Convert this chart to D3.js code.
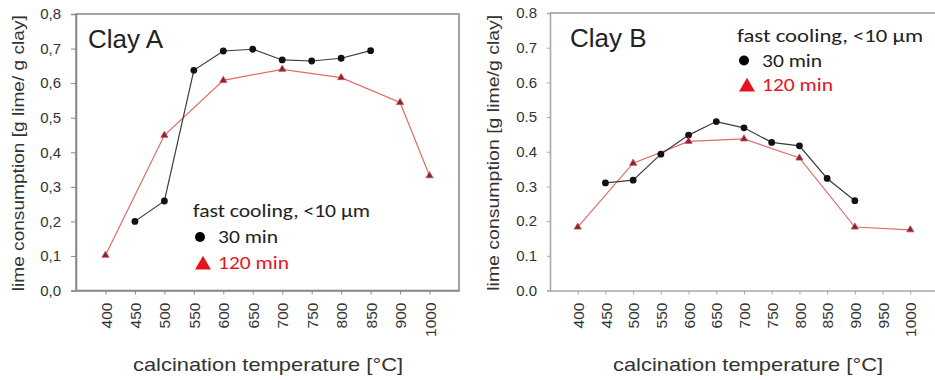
<!DOCTYPE html>
<html>
<head>
<meta charset="utf-8">
<script src="https://cdn.jsdelivr.net/npm/d3@7"></script>
<style>
  html, body { margin: 0; padding: 0; background: #fff; }
  svg { display: block; }
  .tick text { font-family: "Liberation Sans", Arial, sans-serif; fill: #333; }
</style>
</head>
<body>
<svg id="chart" width="935" height="380"></svg>
<script>
// Calcination temperature categories (°C)
const tempsA = ["400", "450", "500", "550", "600", "650", "700", "750", "800", "850", "900", "1000"];
const tempsB = ["400", "450", "500", "550", "600", "650", "700", "750", "800", "850", "900", "950", "1000"];

// Clay A, lime consumption [g lime / g clay]
const clayA30Temps  = ["450", "500", "550", "600", "650", "700", "750", "800", "850"];
const clayA30       = [0.200, 0.259, 0.637, 0.693, 0.698, 0.667, 0.664, 0.672, 0.694];
const clayA120Temps = ["400", "500", "600", "700", "800", "900", "1000"];
const clayA120      = [0.102, 0.449, 0.608, 0.640, 0.616, 0.544, 0.332];

// Clay B, lime consumption [g lime / g clay]
const clayB30Temps  = ["450", "500", "550", "600", "650", "700", "750", "800", "850", "900"];
const clayB30       = [0.310, 0.318, 0.393, 0.448, 0.487, 0.469, 0.427, 0.417, 0.323, 0.259];
const clayB120Temps = ["400", "500", "600", "700", "800", "900", "1000"];
const clayB120      = [0.183, 0.367, 0.430, 0.437, 0.382, 0.183, 0.175];

// Y axis ticks and their labels (comma decimals on the left panel)
const yTicks       = [0, 0.1, 0.2, 0.3, 0.4, 0.5, 0.6, 0.7, 0.8];
const yTickLabelsA = ["0,0", "0,1", "0,2", "0,3", "0,4", "0,5", "0,6", "0,7", "0,8"];
const yTickLabelsB = ["0.0", "0.1", "0.2", "0.3", "0.4", "0.5", "0.6", "0.7", "0.8"];

const legendTitle = "fast cooling, <10 µm";
const seriesNames = ["30 min", "120 min"];

const svg = d3.select("#chart");
const triangle = d3.symbol().type(d3.symbolTriangle);

function panel(cfg) {
  const g = svg.append("g");
  const x = d3.scalePoint().domain(cfg.temps).range([cfg.left, cfg.right]).padding(1);
  const y = d3.scaleLinear().domain([0, 0.8]).range([cfg.bottom, cfg.top]);

  // frame
  if (cfg.box) {
    g.append("rect")
      .attr("x", cfg.left).attr("y", cfg.top)
      .attr("width", cfg.right - cfg.left).attr("height", cfg.bottom - cfg.top)
      .attr("fill", "none").attr("stroke", "#8a8a8a").attr("stroke-width", 1.6);
  } else {
    g.append("line")
      .attr("x1", cfg.left).attr("x2", cfg.right)
      .attr("y1", cfg.top).attr("y2", cfg.top)
      .attr("stroke", "#9a9a9a").attr("stroke-width", 1.4);
  }

  // y axis
  const ya = g.append("g").attr("transform", `translate(${cfg.left},0)`)
    .call(d3.axisLeft(y).tickValues(yTicks).tickSize(cfg.yTick).tickPadding(cfg.yPad)
      .tickFormat((d, i) => cfg.yLabels[i]));
  ya.select(".domain").attr("stroke", cfg.axisColor).attr("stroke-width", 1.6);
  ya.selectAll(".tick line").attr("stroke", cfg.axisColor);
  ya.selectAll(".tick text").attr("font-size", 15);

  // x axis
  const xa = g.append("g").attr("transform", `translate(0,${cfg.bottom})`)
    .call(d3.axisBottom(x).tickSize(4).tickSizeOuter(0));
  xa.select(".domain").attr("stroke", cfg.axisColor).attr("stroke-width", 1.6);
  xa.selectAll(".tick line").attr("stroke", cfg.axisColor);
  xa.selectAll(".tick text")
    .attr("font-size", 15.5)
    .attr("transform", "rotate(-90)")
    .attr("text-anchor", "end")
    .attr("x", -12).attr("y", 0).attr("dy", "0.36em");

  // axis titles
  g.append("text")
    .attr("transform", `translate(${cfg.yTitleX},${(cfg.top + cfg.bottom) / 2 + 1}) rotate(-90)`)
    .attr("text-anchor", "middle").attr("dy", "0.35em")
    .attr("font-family", "'Liberation Sans', Arial, sans-serif").attr("font-size", 17)
    .attr("textLength", 276).attr("lengthAdjust", "spacingAndGlyphs")
    .attr("fill", "#333").text(cfg.yTitle);
  g.append("text")
    .attr("x", cfg.xTitleX).attr("y", 371)
    .attr("text-anchor", "middle")
    .attr("font-family", "'Liberation Sans', Arial, sans-serif").attr("font-size", 18.5)
    .attr("textLength", 270).attr("lengthAdjust", "spacingAndGlyphs")
    .attr("fill", "#333").text("calcination temperature [°C]");

  // panel title
  g.append("text")
    .attr("x", cfg.titleX).attr("y", cfg.titleY)
    .attr("font-family", "'Liberation Sans', Arial, sans-serif").attr("font-size", 26)
    .attr("fill", "#222").text(cfg.title);

  const line = d3.line().x(d => x(d[0])).y(d => y(d[1]));
  const s30 = cfg.t30.map((t, i) => [t, cfg.v30[i]]);
  const s120 = cfg.t120.map((t, i) => [t, cfg.v120[i]]);

  g.append("path").datum(s120).attr("d", line)
    .attr("fill", "none").attr("stroke", "#e06a6a").attr("stroke-width", 1.2);
  g.append("path").datum(s30).attr("d", line)
    .attr("fill", "none").attr("stroke", "#3c3c3c").attr("stroke-width", 1.2);

  g.selectAll(".m30").data(s30).join("circle")
    .attr("cx", d => x(d[0])).attr("cy", d => y(d[1])).attr("r", 3.4)
    .attr("fill", "#111");
  g.selectAll(".m120").data(s120).join("path")
    .attr("d", triangle.size(22))
    .attr("transform", d => `translate(${x(d[0])},${y(d[1])})`)
    .attr("fill", "#7a2a2e").attr("stroke", "#cf4a50").attr("stroke-width", 0.8);

  // legend
  const lg = g.append("g").attr("font-family", "Carlito, Calibri, Lato, sans-serif");
  const gap = cfg.legGap;
  lg.append("text").attr("x", cfg.legX).attr("y", cfg.legY)
    .attr("font-size", 19).attr("fill", "#222")
    .attr("textLength", cfg.legW).attr("lengthAdjust", "spacingAndGlyphs")
    .text(legendTitle);
  lg.append("circle").attr("cx", cfg.legX + 7).attr("cy", cfg.legY + gap - 6).attr("r", 5).attr("fill", "#000");
  lg.append("text").attr("x", cfg.legX + 25).attr("y", cfg.legY + gap)
    .attr("font-size", 19).attr("fill", "#222")
    .attr("textLength", 60).attr("lengthAdjust", "spacingAndGlyphs")
    .text(seriesNames[0]);
  lg.append("path").attr("d", triangle.size(110))
    .attr("transform", `translate(${cfg.legX + 10},${cfg.legY + 2 * gap - 4})`)
    .attr("fill", "#e8141c");
  lg.append("text").attr("x", cfg.legX + 25).attr("y", cfg.legY + 2 * gap)
    .attr("font-size", 19).attr("fill", "#e8141c")
    .attr("textLength", 71).attr("lengthAdjust", "spacingAndGlyphs")
    .text(seriesNames[1]);
}

panel({
  temps: tempsA, left: 76, right: 459, top: 14, bottom: 290.5,
  box: true, axisColor: "#8a8a8a", yTick: 5, yPad: 10, yLabels: yTickLabelsA,
  yTitle: "lime consumption [g lime/ g clay]", yTitleX: 18, xTitleX: 268,
  title: "Clay A", titleX: 88, titleY: 48,
  t30: clayA30Temps, v30: clayA30, t120: clayA120Temps, v120: clayA120,
  legX: 193, legY: 217, legGap: 26, legW: 177
});

panel({
  temps: tempsB, left: 550, right: 938, top: 13, bottom: 290.5,
  box: false, axisColor: "#a8a8a8", yTick: 3, yPad: 10, yLabels: yTickLabelsB,
  yTitle: "lime consumption [g lime/g clay]", yTitleX: 493, xTitleX: 748,
  title: "Clay B", titleX: 570, titleY: 47,
  t30: clayB30Temps, v30: clayB30, t120: clayB120Temps, v120: clayB120,
  legX: 737, legY: 42, legGap: 24.5, legW: 186
});
</script>
</body>
</html>
